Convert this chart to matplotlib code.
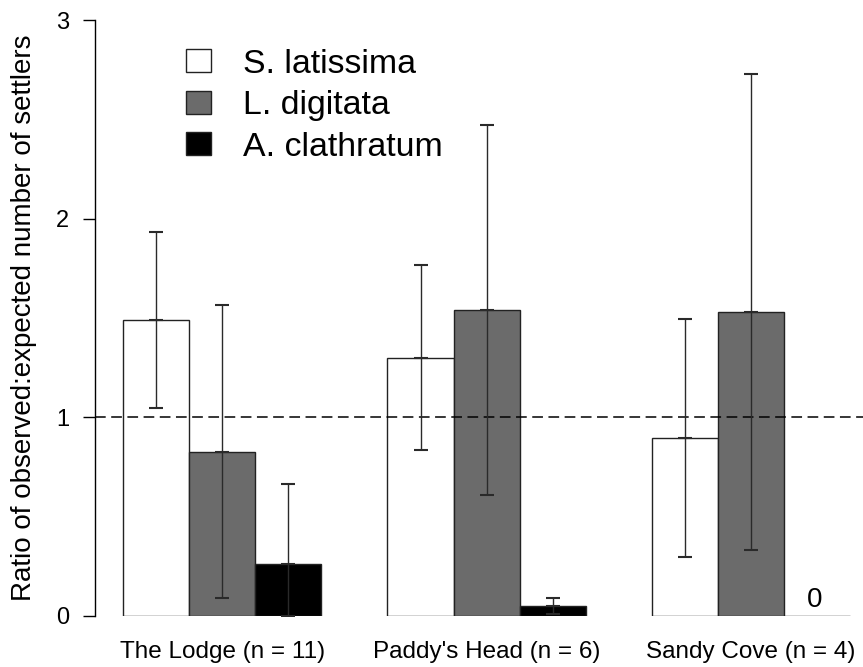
import matplotlib
matplotlib.use("Agg")
import matplotlib.pyplot as plt
from matplotlib.patches import Patch
import numpy as np

plt.rcParams["font.family"] = ["Liberation Sans", "DejaVu Sans"]

sites = ["The Lodge (n = 11)", "Paddy's Head (n = 6)", "Sandy Cove (n = 4)"]
species = ["S. latissima", "L. digitata", "A. clathratum"]
colors = ["white", "#6b6b6b", "black"]

# mean ratio per site, one list per species
s_latissima = [1.49, 1.30, 0.895]
l_digitata = [0.827, 1.54, 1.53]
a_clathratum = [0.263, 0.05, 0.0]

# standard errors
s_latissima_se = [0.443, 0.467, 0.60]
l_digitata_se = [0.737, 0.933, 1.20]
a_clathratum_se = [0.403, 0.04, 0.0]

means = [s_latissima, l_digitata, a_clathratum]
errs = [s_latissima_se, l_digitata_se, a_clathratum_se]

fig = plt.figure(figsize=(8.63, 6.67), dpi=100)
ax = fig.add_axes([0.110, 0.0765, 0.890, 0.8935])

centers = np.arange(len(sites)) * 4.0
width = 1.0
for i, (m, e) in enumerate(zip(means, errs)):
    x = centers + (i - 1) * width
    ax.bar(x, m, width=width, color=colors[i], edgecolor="#222222",
           linewidth=1.0, zorder=2)
    m = np.array(m)
    e = np.array(e)
    has = e > 0
    lower = np.minimum(e, m)
    ax.errorbar(x[has], m[has], yerr=[lower[has], e[has]], fmt="_",
                color="#2a2a2a", ecolor="#2a2a2a", elinewidth=1.0,
                capsize=4.7, capthick=1.0, markersize=9.4,
                markeredgewidth=1.5, zorder=4)
    for xi, mi, ei in zip(x, m, e):
        if mi == 0 and ei == 0:
            ax.text(xi - 0.03, 0.015, "0", ha="center", va="bottom", fontsize=20)

# reference ratio of 1
ax.axhline(1.0, color="black", linestyle=(0, (7, 3.6)), linewidth=1.1, zorder=3)

ax.set_xlim(-1.93, 9.7)
ax.set_ylim(0, 3)
ax.set_yticks([0, 1, 2, 3])
ax.set_xticks(centers)
ax.set_xticklabels(sites)
ax.tick_params(axis="x", length=0, pad=18, labelsize=17.5)
ax.tick_params(axis="y", length=8.5, width=1.0, pad=10, labelsize=17)
for side in ["top", "right", "bottom"]:
    ax.spines[side].set_visible(False)
ax.spines["left"].set_linewidth(1.0)
ax.set_ylabel("Ratio of observed:expected number of settlers", fontsize=20,
              labelpad=14)

handles = [Patch(facecolor=c, edgecolor="#222222", linewidth=1.0) for c in colors]
ax.legend(handles, species, loc="upper left", bbox_to_anchor=(0.118, 0.952),
          frameon=False, fontsize=24.4, handlelength=0.75, handleheight=0.65,
          handletextpad=0.95, labelspacing=0.31, borderpad=0, borderaxespad=0)

fig.savefig("out.png", dpi=100)
